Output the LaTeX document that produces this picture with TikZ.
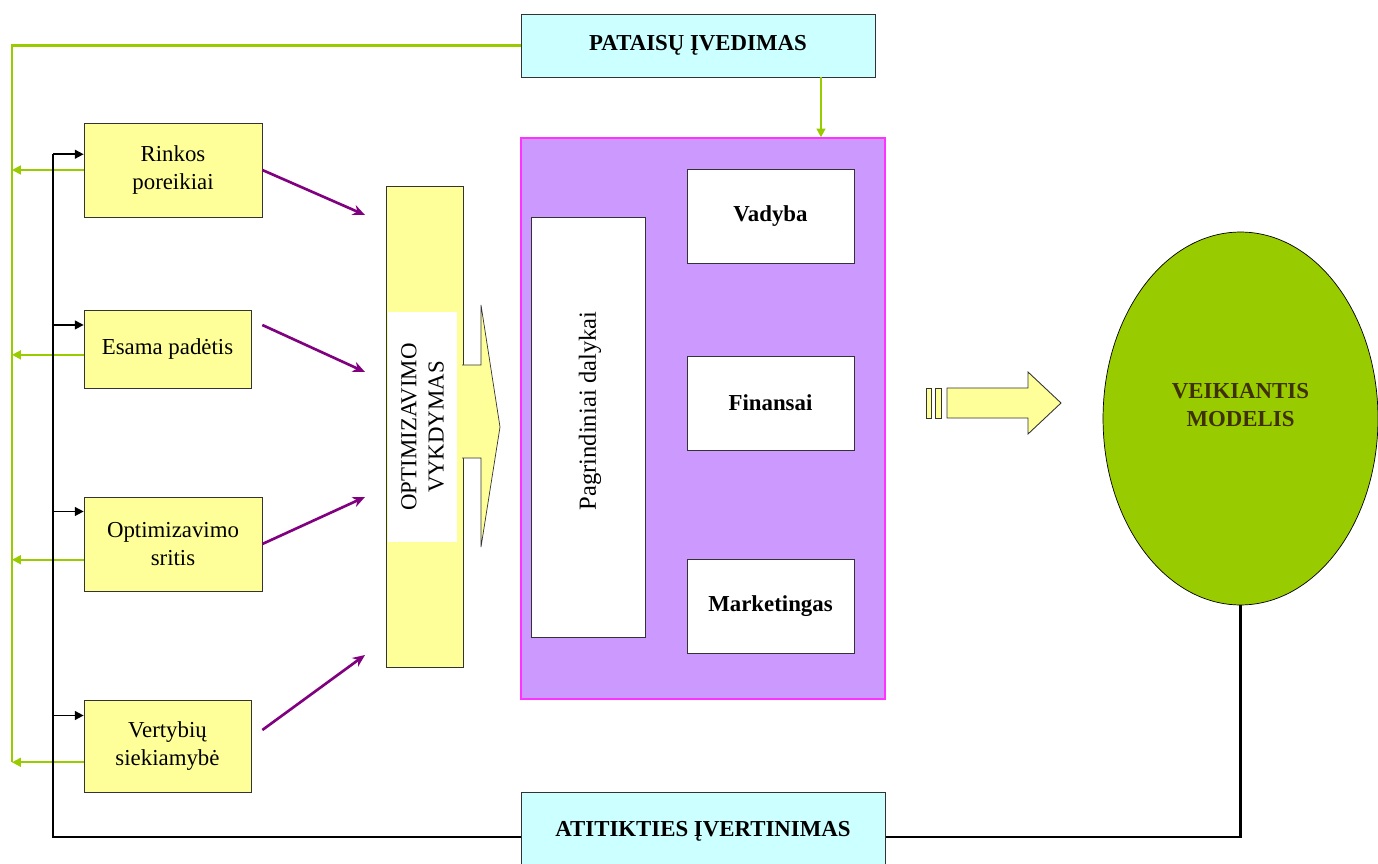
\documentclass[tikz,border=0pt]{standalone}
\usepackage{fontspec}
\setmainfont{Liberation Serif}
\usetikzlibrary{arrows.meta,shapes.geometric}
\definecolor{factorfill}{HTML}{FFFF99}
\definecolor{notefill}{HTML}{CCFFFF}
\definecolor{corefill}{HTML}{CC99FF}
\definecolor{coreline}{HTML}{FF33FF}
\definecolor{loopgreen}{HTML}{99CC00}
\definecolor{flowpurple}{HTML}{800080}
\definecolor{modeltext}{HTML}{3F3000}

\begin{document}
\begin{tikzpicture}[x=0.02cm, y=-0.02cm]
                    \tikzset{txt/.style={font=\fontsize{13}{15.5}\selectfont},
                             factor/.style={txt, draw=black!80, fill=factorfill, align=center, minimum width=3.56cm, minimum height=1.88cm},
                             note/.style={txt, draw=black!80, fill=notefill, font=\fontsize{13}{15.5}\selectfont\bfseries, minimum width=7.08cm, minimum height=1.26cm},
                             part/.style={txt, draw=black!80, fill=white, font=\fontsize{13}{15.5}\selectfont\bfseries, minimum width=3.34cm, minimum height=1.88cm},
                             green/.style={loopgreen, line width=1.1pt, -{Triangle[length=5pt, width=5pt]}},
                             feed/.style={black, line width=0.9pt, -{Triangle[length=5pt, width=5pt]}},
                             flow/.style={flowpurple, line width=1.5pt, -{Stealth[length=7pt, width=6pt]}}}
                    \useasboundingbox (0, 0) rectangle (1378, 864);

                    \node[note] (fix) at (698, 45.5) {PATAISŲ ĮVEDIMAS};
                    \node[factor] (needs) at (173, 170) {Rinkos\\poreikiai};
                    \node[factor, minimum width=3.34cm, minimum height=1.56cm] (state) at (167.5, 349) {Esama padėtis};
                    \node[factor] (area) at (173, 544) {Optimizavimo\\sritis};
                    \node[factor, minimum width=3.34cm, minimum height=1.84cm] (value) at (167.5, 746) {Vertybių\\siekiamybė};

                    \node[draw=black!80, fill=factorfill, minimum width=1.54cm, minimum height=9.62cm] (opt) at (424.5, 426.5) {};
                    \filldraw[fill=factorfill, draw=black!80, line width=0.4pt] (462, 365) -- (481, 365) -- (481, 305) -- (500, 427)
                        -- (481, 547) -- (481, 458) -- (462, 458);
                    \node[txt, rotate=90, fill=white, align=center, minimum width=4.6cm, minimum height=1.38cm] (optlabel) at (422.5, 427) {OPTIMIZAVIMO\\VYKDYMAS};

                    \node[draw=coreline, fill=corefill, line width=0.8pt, minimum width=7.28cm, minimum height=11.22cm] (core) at (703, 418.5) {};
                    \node[draw=black!80, fill=white, minimum width=2.28cm, minimum height=8.4cm] (main) at (588, 427) {};
                    \node[txt, rotate=90, font=\fontsize{14}{16}\selectfont] (mainlabel) at (590, 411) {Pagrindiniai dalykai};
                    \node[part] (mgmt) at (770.5, 216) {Vadyba};
                    \node[part] (fin) at (770.5, 403) {Finansai};
                    \node[part] (mkt) at (770.5, 606) {Marketingas};

                    \filldraw[fill=factorfill, draw=black!80, line width=0.5pt] (926, 388) rectangle (931, 418) (935, 388) rectangle (941, 418);
                    \filldraw[fill=factorfill, draw=black!80, line width=0.5pt] (947, 388) -- (1028, 388) -- (1028, 372) -- (1061, 403)
                        -- (1028, 434) -- (1028, 418) -- (947, 418) -- cycle;

                    \node[ellipse, draw=black, fill=loopgreen, minimum width=5.5cm, minimum height=7.46cm, inner sep=0pt] (model) at (1240.5, 418.5) {};
                    \node[text=modeltext, align=center, font=\fontsize{13}{15.5}\selectfont\bfseries] (modellabel) at (1240.5, 405) {VEIKIANTIS\\MODELIS};

                    \coordinate (gbot) at (12, 762);
                    \coordinate (bcorner) at (53, 837);
                    \coordinate (p1) at (365, 215);
                    \coordinate (p2) at (365, 372);
                    \coordinate (p3) at (365, 497);
                    \coordinate (p4) at (365, 655);

                    \draw[loopgreen, line width=1.7pt] (fix.west) -| (gbot);
                    \draw[green] ([xshift=2.46cm]fix.south) -- ([xshift=2.46cm]fix.south |- core.north);
                    \draw[green] (needs.west) -- (needs.west -| gbot);
                    \draw[green] (state.184) -- (state.184 -| gbot);
                    \draw[green] (area.190) -- (area.190 -| gbot);
                    \draw[green] (value.191) -- (value.191 -| gbot);

                    \draw[black, line width=1.6pt] (model.south) |- (bcorner) -- (bcorner |- needs.170);
                    \draw[feed] (bcorner |- needs.170) -- (needs.170);
                    \draw[feed] (state.164 -| bcorner) -- (state.164);
                    \draw[feed] (area.160 -| bcorner) -- (area.160);
                    \draw[feed] (value.160 -| bcorner) -- (value.160);

                    \node[note, minimum width=7.28cm, minimum height=1.56cm] (check) at (703, 831) {ATITIKTIES ĮVERTINIMAS};

                    \path[flow]
                        (needs.east) edge (p1)
                        ([shift={(11, -24)}]state.east) edge (p2)
                        (area.east) edge (p3)
                        ([shift={(11, -16)}]value.east) edge (p4);
                \end{tikzpicture}
\end{document}
